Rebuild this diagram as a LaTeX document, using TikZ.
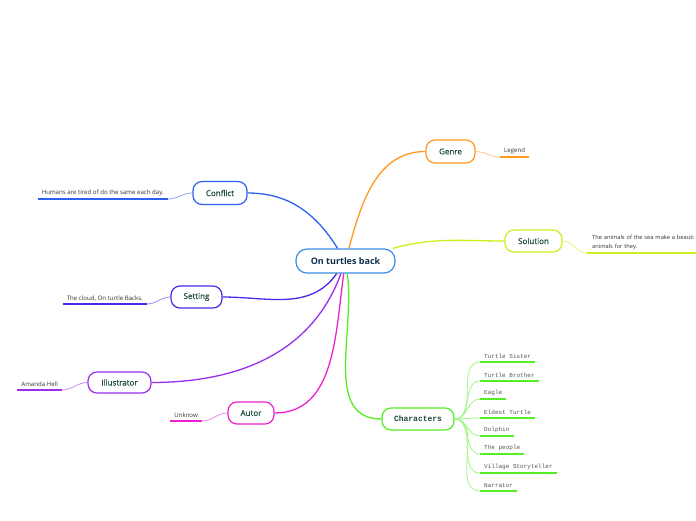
\documentclass[tikz,border=0pt]{standalone}
\usepackage{fontspec}
\setmainfont{Open Sans}
\setmonofont{Liberation Mono}
\newfontfamily\topicfont[FakeBold=0.35]{Open Sans}
\definecolor{rootc}{HTML}{3A8EE6}
\definecolor{roottext}{HTML}{10304F}
\definecolor{nodetext}{HTML}{1D4A3C}
\definecolor{leaftext}{HTML}{333333}
\definecolor{monotext}{HTML}{555555}
\definecolor{cConflict}{HTML}{2F5FF5}
\definecolor{cGenre}{HTML}{FF9A1F}
\definecolor{cSolution}{HTML}{CCF01A}
\definecolor{cSetting}{HTML}{4A2AE8}
\definecolor{cIllu}{HTML}{9A2EEE}
\definecolor{cAutor}{HTML}{EE22CC}
\definecolor{cChar}{HTML}{55EE22}
\tikzset{
  topic/.style={draw=#1, rounded corners=9pt, line width=1.2pt, fill=white,
    inner sep=0pt, font=\topicfont\fontsize{8}{10}\selectfont, text=nodetext},
  leaf/.style={inner xsep=4pt, inner ysep=3pt, font=\fontsize{6.1}{7.6}\selectfont, text=leaftext},
  mleaf/.style={inner xsep=4pt, inner ysep=3pt, font=\ttfamily\fontsize{6}{7}\selectfont, text=monotext},
  branch/.style={draw=#1, line width=1.3pt},
  twig/.style={draw=#1!55, line width=0.8pt},
  uline/.style={draw=#1, line width=1.8pt},
}
\begin{document}
\begin{tikzpicture}[x=1pt,y=1pt]
\useasboundingbox[fill=white] (0,0) rectangle (696,-520);
% topics
\node[topic=rootc, minimum width=99pt, minimum height=24pt, rounded corners=11pt, text=roottext, font=\bfseries\fontsize{9}{11}\selectfont] (root) at (345.5,-261) {On turtles back};
\node[topic=cConflict, minimum width=54pt, minimum height=23pt] (conflict) at (220,-193) {Conflict};
\node[topic=cGenre, minimum width=49pt, minimum height=23pt] (genre) at (450.5,-151.5) {Genre};
\node[topic=cSolution, minimum width=57pt, minimum height=22pt] (solution) at (533.5,-241) {Solution};
\node[topic=cSetting, minimum width=51pt, minimum height=22pt] (setting) at (196.5,-297) {Setting};
\node[topic=cIllu, minimum width=63pt, minimum height=21pt] (illu) at (119.5,-382.5) {Illustrator};
\node[topic=cAutor, minimum width=46pt, minimum height=22pt] (autor) at (251,-413) {Autor};
\node[topic=cChar, minimum width=72pt, minimum height=22pt, font=\ttfamily\bfseries\fontsize{8}{10}\selectfont] (chars) at (418,-419) {Characters};
% main branches
\draw[branch=cConflict] (root) to[out=122,in=0] (conflict.east);
\draw[branch=cGenre] (root) to[out=75,in=180] (genre.west);
\draw[branch=cSolution] (root) to[out=15,in=180] (solution.west);
\draw[branch=cSetting] (root) to[out=235,in=0] (setting.east);
\draw[branch=cIllu] (root) to[out=250,in=0] (illu.east);
\draw[branch=cAutor] (root) to[out=262,in=0] (autor.east);
\draw[branch=cChar] (root) to[out=278,in=180] (chars.west);
% leaves
\node[leaf, anchor=south west, text width=130pt, align=left, inner xsep=5pt, font=\fontsize{5.7}{9}\selectfont] (lsol) at (587,-253) {The animals of the sea make a beauti\\animals for they.};
\node[leaf, anchor=south east] (lconf) at (168,-199) {Humans are tired of do the same each day.};
\node[leaf, anchor=south west] (lgenre) at (500,-157) {Legend};
\node[leaf, anchor=south east] (lset) at (147,-304) {The cloud, On turtle Backs.};
\node[leaf, anchor=south east] (lillu) at (62,-390) {Amanda Hell};
\node[leaf, anchor=south east] (lautor) at (202,-421) {Unknow};
\node[mleaf, anchor=south west] (c1) at (480,-362) {Turtle Sister};
\node[mleaf, anchor=south west] (c2) at (480,-381) {Turtle Brother};
\node[mleaf, anchor=south west] (c3) at (480,-399) {Eagle};
\node[mleaf, anchor=south west] (c4) at (480,-418) {Eldest Turtle};
\node[mleaf, anchor=south west] (c5) at (480,-436) {Dolphin};
\node[mleaf, anchor=south west] (c6) at (480,-454) {The people};
\node[mleaf, anchor=south west] (c7) at (480,-473) {Village Storyteller};
\node[mleaf, anchor=south west] (c8) at (480,-491) {Narrator};
% underlines
\draw[uline=cConflict] (lconf.south west) -- (lconf.south east);
\draw[uline=cGenre] (lgenre.south west) -- (lgenre.south east);
\draw[uline=cSolution] (lsol.south west) -- (lsol.south east);
\draw[uline=cSetting] (lset.south west) -- (lset.south east);
\draw[uline=cIllu] (lillu.south west) -- (lillu.south east);
\draw[uline=cAutor] (lautor.south west) -- (lautor.south east);
\foreach \c in {c1,c2,c3,c4,c5,c6,c7,c8}{
  \draw[uline=cChar] (\c.south west) -- (\c.south east);
  \draw[twig=cChar] (chars.east) to[out=0,in=180] (\c.south west);
}
% twigs
\draw[twig=cConflict] (conflict.west) to[out=180,in=0] (lconf.south east);
\draw[twig=cGenre] (genre.east) to[out=0,in=180] (lgenre.south west);
\draw[twig=cSolution] (solution.east) to[out=0,in=180] (lsol.south west);
\draw[twig=cSetting] (setting.west) to[out=180,in=0] (lset.south east);
\draw[twig=cIllu] (illu.west) to[out=180,in=0] (lillu.south east);
\draw[twig=cAutor] (autor.west) to[out=180,in=0] (lautor.south east);
\end{tikzpicture}
\end{document}
